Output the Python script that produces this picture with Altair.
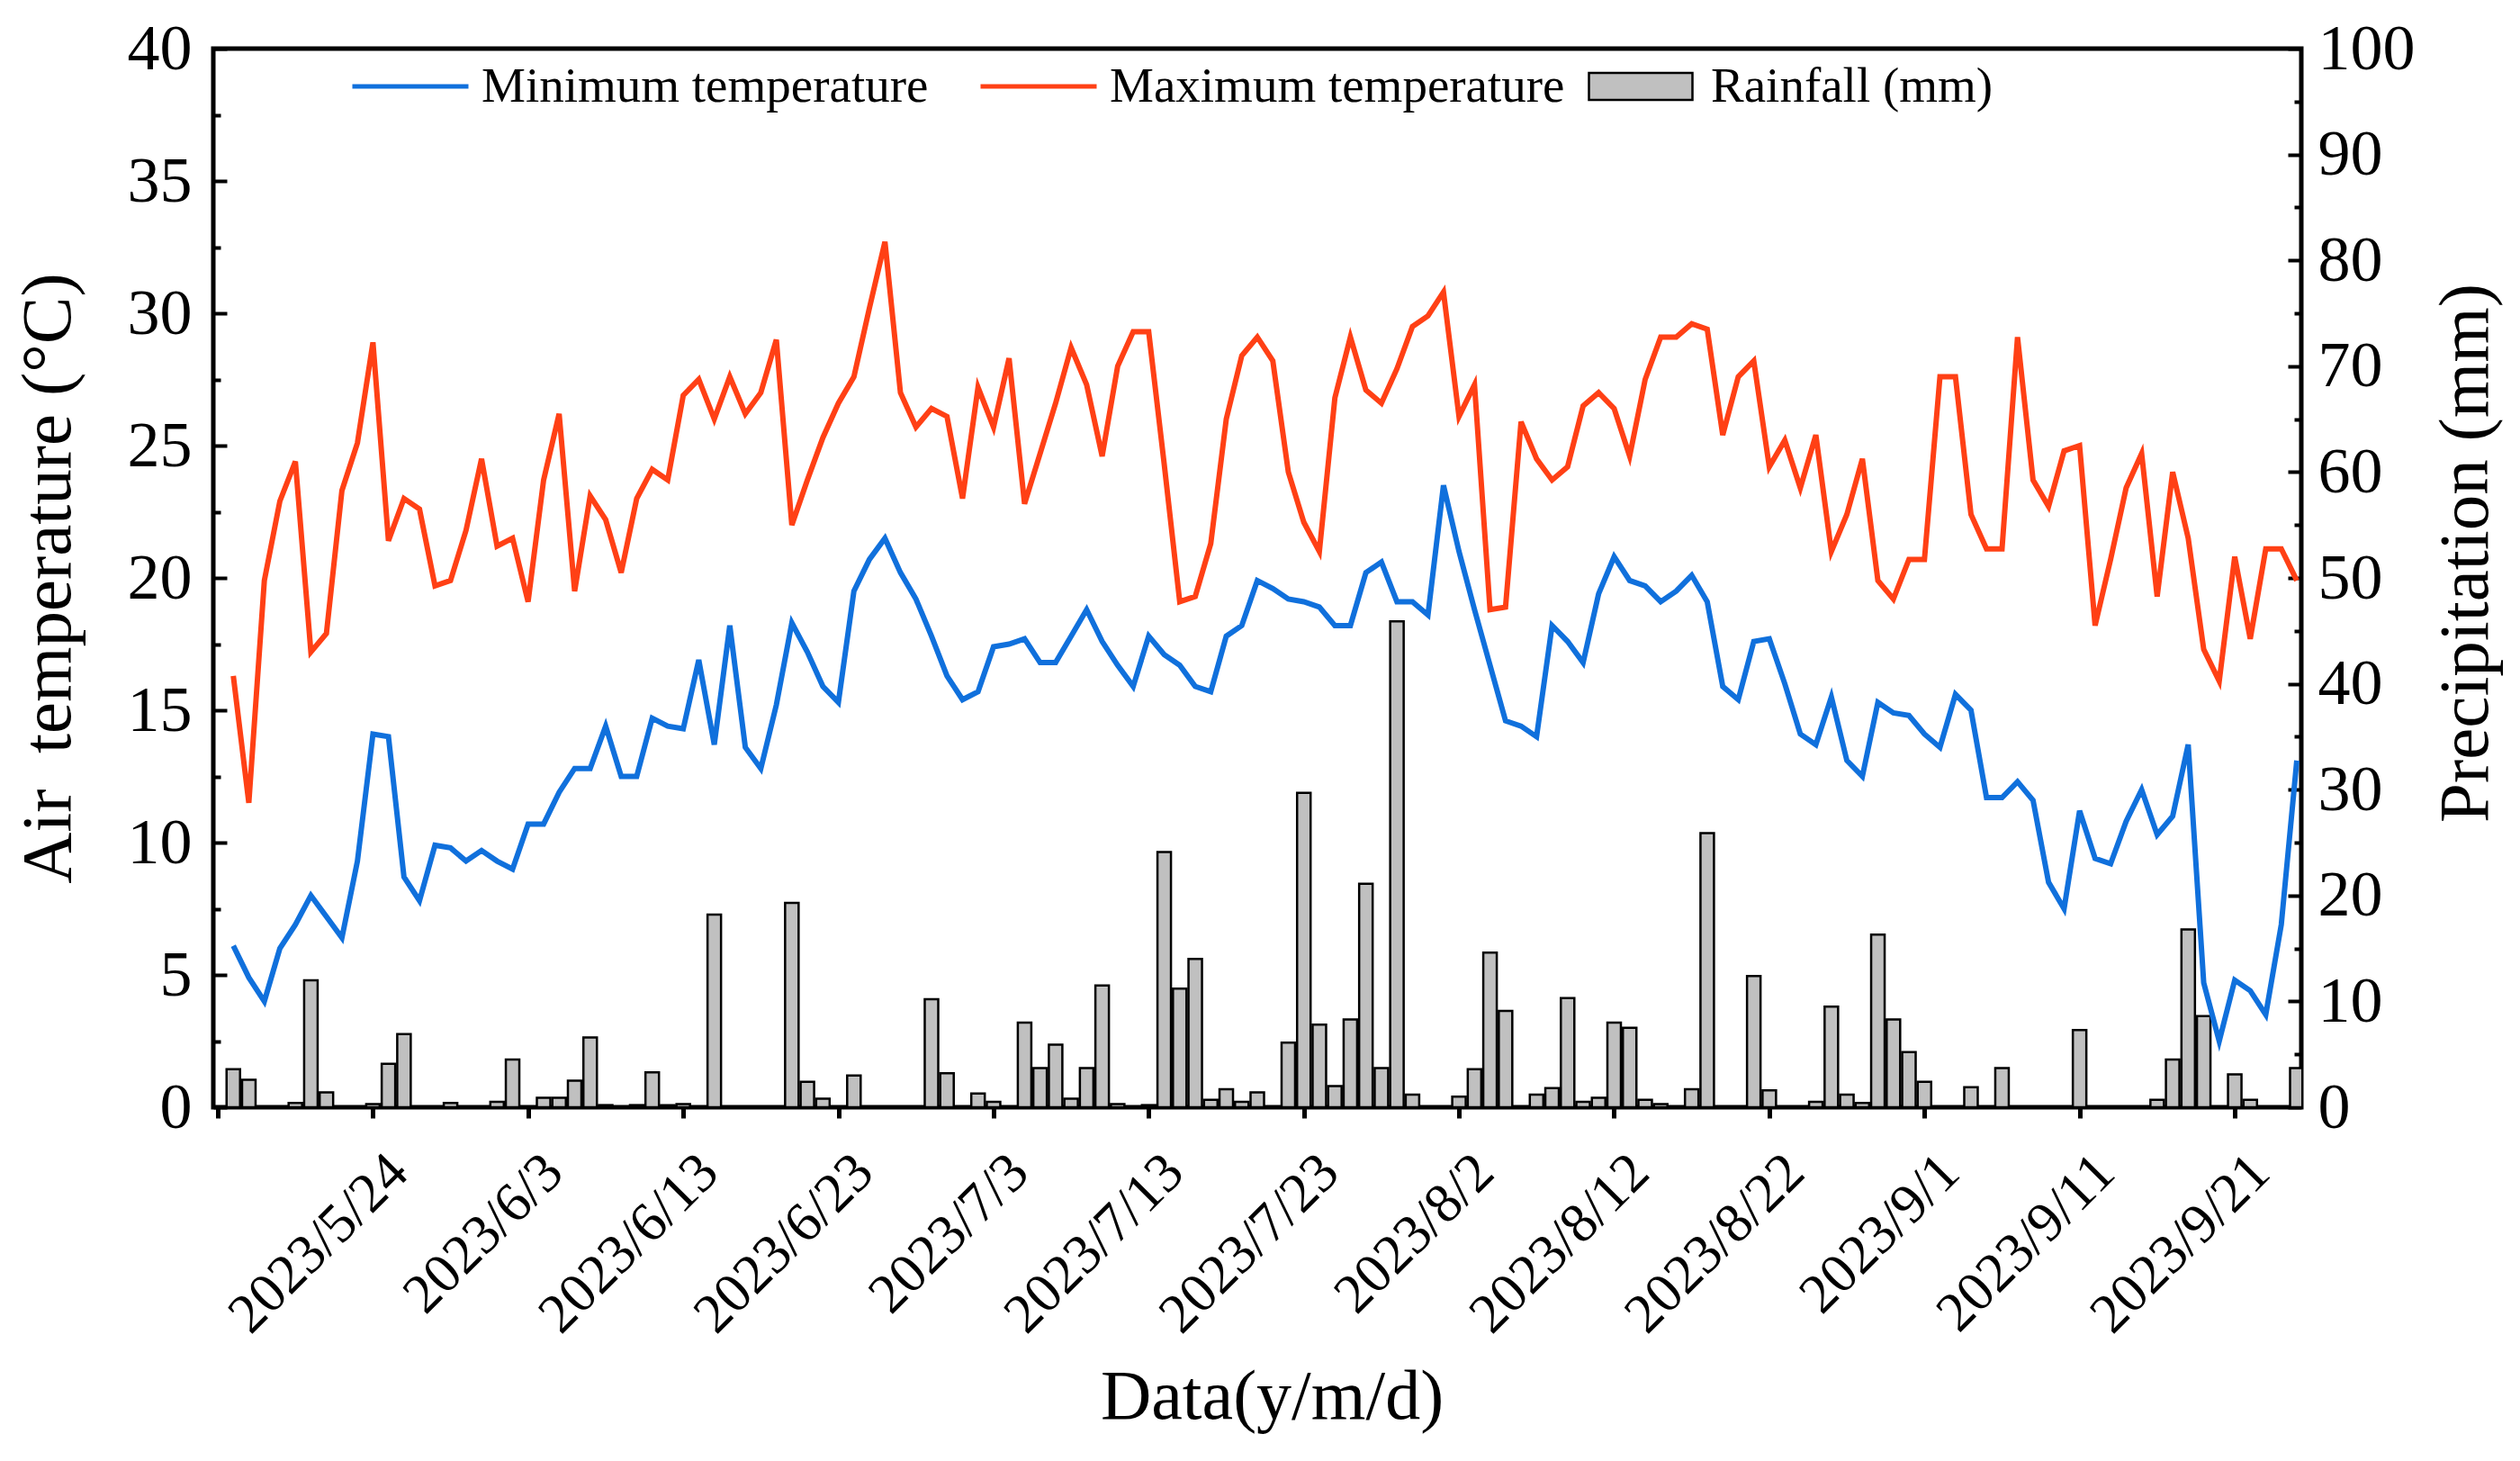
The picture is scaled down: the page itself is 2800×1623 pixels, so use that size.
import altair as alt
import pandas as pd

# ---------------- data ----------------
n_days = 134
dates = pd.date_range("2023-05-15", periods=n_days, freq="D").strftime("%Y-%m-%d").tolist()

t_max = [16.3, 11.5, 19.9, 22.9, 24.4, 17.2, 17.9, 23.3, 25.1, 28.9,
         21.4, 23.0, 22.6, 19.7, 19.9, 21.8, 24.5, 21.2, 21.5, 19.1,
         23.7, 26.2, 19.5, 23.1, 22.2, 20.2, 23.0, 24.1, 23.7, 26.9,
         27.5, 26.0, 27.6, 26.2, 27.0, 29.0, 22.0, 23.7, 25.3, 26.6,
         27.6, 30.2, 32.7, 27.0, 25.7, 26.4, 26.1, 23.0, 27.2, 25.7,
         28.3, 22.8, 24.7, 26.6, 28.7, 27.3, 24.6, 28.0, 29.3, 29.3,
         24.3, 19.1, 19.3, 21.3, 26.0, 28.4, 29.1, 28.2, 24.0, 22.1,
         21.0, 26.8, 29.1, 27.1, 26.6, 27.9, 29.5, 29.9, 30.8, 26.1,
         27.3, 18.8, 18.9, 25.9, 24.5, 23.7, 24.2, 26.5, 27.0, 26.4,
         24.6, 27.5, 29.1, 29.1, 29.6, 29.4, 25.4, 27.6, 28.2, 24.2,
         25.2, 23.4, 25.4, 21.0, 22.4, 24.5, 19.9, 19.2, 20.7, 20.7,
         27.6, 27.6, 22.4, 21.1, 21.1, 29.1, 23.7, 22.7, 24.8, 25.0,
         18.2, 20.7, 23.4, 24.7, 19.3, 24.0, 21.5, 17.3, 16.1, 20.8,
         17.7, 21.1, 21.1, 19.9]

t_min = [6.1, 4.9, 4.0, 6.0, 6.9, 8.0, 7.2, 6.4, 9.3, 14.1,
         14.0, 8.7, 7.8, 9.9, 9.8, 9.3, 9.7, 9.3, 9.0, 10.7,
         10.7, 11.9, 12.8, 12.8, 14.4, 12.5, 12.5, 14.7, 14.4, 14.3,
         16.9, 13.7, 18.2, 13.6, 12.8, 15.2, 18.3, 17.2, 15.9, 15.3,
         19.5, 20.7, 21.5, 20.2, 19.2, 17.8, 16.3, 15.4, 15.7, 17.4,
         17.5, 17.7, 16.8, 16.8, 17.8, 18.8, 17.6, 16.7, 15.9, 17.8,
         17.1, 16.7, 15.9, 15.7, 17.8, 18.2, 19.9, 19.6, 19.2, 19.1,
         18.9, 18.2, 18.2, 20.2, 20.6, 19.1, 19.1, 18.6, 23.5, 21.0,
         18.8, 16.7, 14.6, 14.4, 14.0, 18.2, 17.6, 16.8, 19.4, 20.8,
         19.9, 19.7, 19.1, 19.5, 20.1, 19.1, 15.9, 15.4, 17.6, 17.7,
         16.0, 14.1, 13.7, 15.5, 13.1, 12.5, 15.3, 14.9, 14.8, 14.1,
         13.6, 15.6, 15.0, 11.7, 11.7, 12.3, 11.6, 8.5, 7.5, 11.2,
         9.4, 9.2, 10.8, 12.0, 10.3, 11.0, 13.7, 4.7, 2.5, 4.8,
         4.4, 3.5, 6.9, 13.1]

rain = [3.6, 2.6, 0, 0, 0.4, 12.0, 1.4, 0, 0, 0.3,
        4.1, 6.9, 0, 0, 0.4, 0, 0, 0.5, 4.5, 0,
        0.9, 0.9, 2.5, 6.6, 0.2, 0, 0.2, 3.3, 0.2, 0.3,
        0, 18.2, 0, 0, 0, 0, 19.3, 2.4, 0.8, 0,
        3.0, 0, 0, 0, 0, 10.2, 3.2, 0, 1.3, 0.5,
        0, 8.0, 3.7, 5.9, 0.8, 3.7, 11.5, 0.3, 0, 0.2,
        24.1, 11.2, 14.0, 0.7, 1.7, 0.5, 1.4, 0, 6.1, 29.7,
        7.8, 2.0, 8.3, 21.1, 3.7, 45.9, 1.2, 0, 0, 1.0,
        3.6, 14.6, 9.1, 0, 1.2, 1.8, 10.3, 0.5, 0.9, 8.0,
        7.5, 0.7, 0.3, 0, 1.7, 25.9, 0, 0, 12.4, 1.6,
        0, 0, 0.5, 9.5, 1.2, 0.4, 16.3, 8.3, 5.2, 2.4,
        0, 0, 1.9, 0, 3.7, 0, 0, 0, 0, 7.3,
        0, 0, 0, 0, 0.7, 4.5, 16.8, 8.6, 0, 3.1,
        0.7, 0, 0, 3.7]

series_names = ["Minimum temperature", "Maximum temperature"]
series_colors = ["#1070dc", "#ff4015"]
rain_label = "Rainfall (mm)"
tick_dates = ["2023-05-14", "2023-05-24", "2023-06-03", "2023-06-13", "2023-06-23",
              "2023-07-03", "2023-07-13", "2023-07-23", "2023-08-02", "2023-08-12",
              "2023-08-22", "2023-09-01", "2023-09-11", "2023-09-21"]

temp_df = pd.DataFrame({
    "date": dates + dates,
    "series": [series_names[0]] * n_days + [series_names[1]] * n_days,
    "value": t_min + t_max,
})
rain_df = pd.DataFrame({"date": dates, "rain": rain, "label": rain_label})
rain_df = rain_df[rain_df["rain"] > 0]

FONT = "Liberation Serif"


def dt(s):
    y, m, d = (int(v) for v in s.split("-"))
    return alt.DateTime(year=y, month=m, date=d, utc=True)


x_enc = alt.X(
    "date:T",
    scale=alt.Scale(type="utc", domain=[dt("2023-05-14"), dt("2023-09-25")]),
    axis=alt.Axis(
        values=[dt(s) for s in tick_dates],
        labelExpr="utcdate(datum.value) == 14 && utcmonth(datum.value) == 4 ? '' : utcFormat(datum.value, '%Y/%-m/%-d')",
        labelAngle=315,
        labelAlign="right",
        labelBaseline="middle",
        labelFontSize=62,
        labelPadding=50,
        labelOffset=28,
        labelFlush=False,
        labelOverlap=False,
        labelLimit=2000,
        tickSize=12,
        tickWidth=5,
        domain=False,
        grid=False,
        title="Data(y/m/d)",
        titleFontSize=78,
        titleFontWeight="normal",
        titleY=322,
        titleX=1176,
        titleBaseline="middle",
    ),
)

bars = alt.Chart(rain_df).mark_bar(
    width=15, stroke="black", strokeWidth=2.5, clip=True
).encode(
    x=x_enc,
    y=alt.Y(
        "rain:Q",
        scale=alt.Scale(domain=[0, 100], nice=False),
        axis=alt.Axis(
            orient="right", values=list(range(0, 101, 10)), offset=-15,
            tickSize=15, tickWidth=4, domain=False, grid=False,
            labelFontSize=72, labelPadding=18,
            title="Precipitation (mm)", titleFontSize=79, titleFontWeight="normal",
            titleAngle=270, titleX=197, titleY=560, titleBaseline="middle", titleAlign="center",
        ),
    ),
    fill=alt.Fill(
        "label:N",
        scale=alt.Scale(domain=[rain_label], range=["#c0c0c0"]),
        legend=alt.Legend(
            orient="none", legendX=1527, legendY=-17, direction="horizontal", title=None,
            symbolType="M-1,-0.26H1V0.26H-1Z", symbolSize=13225,
            symbolStrokeColor="black", symbolStrokeWidth=2.5, symbolOpacity=1,
            labelFont=FONT, labelFontSize=55, labelOffset=19, labelLimit=1000, padding=0,
        ),
    ),
)

minor_right = alt.Chart(rain_df).mark_point(opacity=0).encode(
    x=x_enc,
    y=alt.Y(
        "rain:Q",
        scale=alt.Scale(domain=[0, 100], nice=False),
        axis=alt.Axis(
            orient="right", values=list(range(5, 100, 10)), offset=-8,
            tickSize=8, tickWidth=4, domain=False, grid=False, labels=False, title=None,
        ),
    ),
)

lines = alt.Chart(temp_df).mark_line(strokeWidth=6, clip=True).encode(
    x=x_enc,
    y=alt.Y(
        "value:Q",
        scale=alt.Scale(domain=[0, 40], nice=False),
        axis=alt.Axis(
            orient="left", values=list(range(0, 41, 5)), offset=-15,
            tickSize=15, tickWidth=4, domain=False, grid=False,
            labelFontSize=72, labelPadding=24,
            title="Air \u00a0temperature (°C)", titleFontSize=79, titleFontWeight="normal",
            titleAngle=270, titleX=-199, titleY=588, titleBaseline="middle", titleAlign="center",
        ),
    ),
    color=alt.Color(
        "series:N",
        scale=alt.Scale(domain=series_names, range=series_colors),
        legend=alt.Legend(
            orient="none", legendX=152, legendY=-25, direction="horizontal", title=None,
            symbolType="stroke", symbolSize=16641, symbolStrokeWidth=5,
            labelFont=FONT, labelFontSize=55, labelOffset=12, labelLimit=1000,
            columnPadding=47, padding=0,
        ),
    ),
    detail="series:N",
)

minor_left = alt.Chart(temp_df).mark_point(opacity=0).encode(
    x=x_enc,
    y=alt.Y(
        "value:Q",
        scale=alt.Scale(domain=[0, 40], nice=False),
        axis=alt.Axis(
            orient="left", values=[v + 2.5 for v in range(0, 40, 5)], offset=-8,
            tickSize=8, tickWidth=4, domain=False, grid=False, labels=False, title=None,
        ),
    ),
)

chart = alt.layer(bars, lines, minor_left, minor_right).resolve_scale(
    y="independent"
).properties(
    width=2320,
    height=1176,
    autosize=alt.AutoSizeParams(type="none"),
    padding={"left": 229, "top": 46, "right": 233, "bottom": 370},
).configure_view(
    stroke="black", strokeWidth=5
).configure_axis(
    labelFont=FONT, titleFont=FONT, labelColor="black", titleColor="black",
    tickColor="black",
).configure_legend(
    labelColor="black"
)

chart.save("out.html", embed_options={"renderer": "svg", "actions": False})
